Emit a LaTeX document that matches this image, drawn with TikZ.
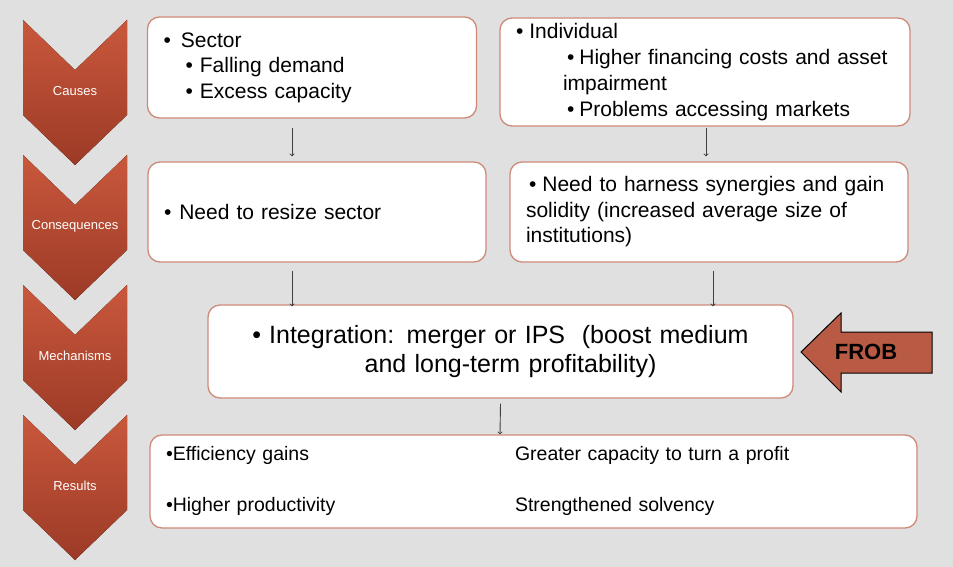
\documentclass[tikz,border=0pt]{standalone}
\usepackage{fontspec}
\setmainfont{Liberation Sans}
\usepackage{tikz}
\usetikzlibrary{positioning}
\usetikzlibrary{arrows}
\usetikzlibrary{calc}
\definecolor{bggray}{HTML}{E0E0E0}
\definecolor{boxline}{HTML}{CF8A7A}
\definecolor{chevtop}{HTML}{C9583C}
\definecolor{chevbot}{HTML}{9C3A26}
\definecolor{frobfill}{HTML}{B95A45}
\tikzset{>=to}
\tikzstyle{phasebox}=[draw=boxline,line width=1.3pt,rounded corners=12pt,fill=white,inner xsep=16pt,inner ysep=0pt,align=left,font=\fontsize{21}{25.5}\selectfont]
\tikzstyle{chevron}=[top color=chevtop,bottom color=chevbot,draw=none]
\tikzstyle{chevlabel}=[white,inner sep=0pt,font=\fontsize{13}{15}\selectfont]
\tikzstyle{flow}=[->,line width=0.9pt,color=black!75]

\begin{document}
\begin{tikzpicture}[x=1pt,y=-1pt]
	
	% Canvas
	\fill[bggray] (0,0) rectangle (953,567);
	\useasboundingbox (0,0) rectangle (953,567);
	
	% Phases
	\fill[chevron] (23,20) -- (75,70) -- (127,20) -- (127,115) -- (75,165) -- (23,115) -- cycle;
	\node[chevlabel] (causes) at (75,91) {Causes};
	\fill[chevron] (23,155) -- (75,205) -- (127,155) -- (127,250) -- (75,300) -- (23,250) -- cycle;
	\node[chevlabel] (consequences) at (75,226) {Consequences};
	\fill[chevron] (23,285) -- (75,335) -- (127,285) -- (127,380) -- (75,430) -- (23,380) -- cycle;
	\node[chevlabel] (mechanisms) at (75,356) {Mechanisms};
	\fill[chevron] (23,415) -- (75,465) -- (127,415) -- (127,510) -- (75,560) -- (23,510) -- cycle;
	\node[chevlabel] (results) at (75,486) {Results};
	
	% Causes
	\node[phasebox, text width=297pt, minimum height=101pt] (sector) at (312,67.5) {\textbullet\hspace{10pt}Sector\\
		\hspace*{22pt}\textbullet\hspace{7pt}Falling demand\\
		\hspace*{22pt}\textbullet\hspace{7pt}Excess capacity};
	\node[phasebox, text width=378pt, minimum height=108pt, font=\fontsize{21}{26}\selectfont] (indiv) at (705,72) {\textbullet\hspace{6pt}Individual\\
		\hspace*{51pt}\textbullet\hspace{5pt}Higher financing costs and asset\\
		\hspace*{47pt}impairment\\
		\hspace*{51pt}\textbullet\hspace{5pt}Problems accessing markets};
	
	% Consequences
	\node[phasebox, text width=306pt, minimum height=100pt] (resize) at (317,212) {\textbullet\hspace{8pt}Need to resize sector};
	\node[phasebox, text width=366pt, minimum height=100pt] (synergy) at (709,212) {\hspace*{3pt}\textbullet\hspace{6pt}Need to harness synergies and gain\\
		solidity (increased average size of\\
		institutions)};
	
	% Mechanisms
	\node[phasebox, align=center, text width=553pt, minimum height=93pt, font=\fontsize{25}{29}\selectfont] (integ) at (500.5,351.5) {\textbullet\hspace{8pt}Integration: merger or IPS\ \ (boost medium\\
		\hspace*{20pt}and long-term profitability)};
	\draw[fill=frobfill, draw=black, line width=1pt] (801,352) -- (841,313) -- (841,332) -- (932,332) -- (932,373) -- (841,373) -- (841,392) -- cycle;
	\node[font=\bfseries\fontsize{22}{26}\selectfont] (frob) at (866,352) {FROB};
	
	% Results
	\node[phasebox, text width=735pt, minimum height=93pt, font=\fontsize{19.5}{23}\selectfont] (gains) at (533.5,481.5) {%
		\raisebox{-4pt}{\begin{tabular}{@{}p{349pt}@{}l@{}}
		\textbullet Efficiency gains & Greater capacity to turn a profit\\[28pt]
		\textbullet Higher productivity & Strengthened solvency
		\end{tabular}}};
	
	% Arrows
	\draw[flow] ($(sector.south)+(-20,9)$) -- ($(resize.north)+(-25,-5)$);
	\draw[flow] ($(indiv.south)+(1,1)$) -- ($(synergy.north)+(-3,-5)$);
	\draw[flow] ($(resize.south)+(-25,8)$) -- ($(integ.north)+(-208.5,2)$);
	\draw[flow] ($(synergy.south)+(4,8)$) -- ($(integ.north)+(212.5,2)$);
	\draw[flow] ($(integ.south)+(0,5)$) -- ($(gains.north)+(-33.5,0)$);
	
\end{tikzpicture}
\end{document}
